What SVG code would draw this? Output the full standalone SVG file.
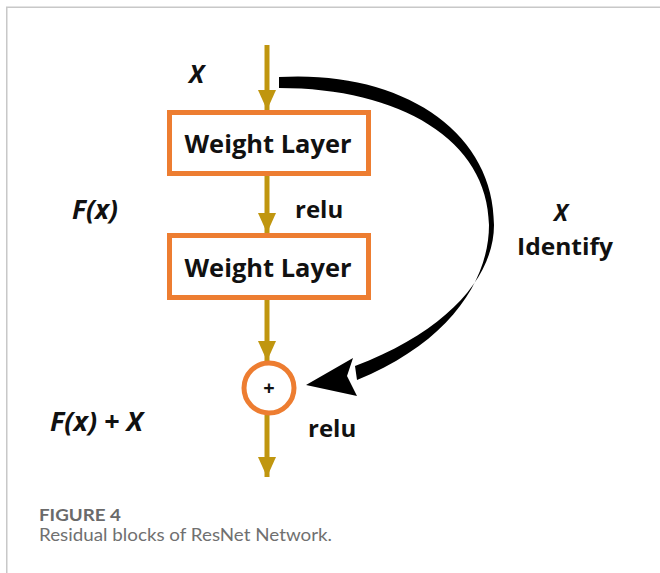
<svg xmlns="http://www.w3.org/2000/svg" width="660" height="573" viewBox="0 0 660 573">
<style>
.frame{fill:none;stroke:#c8c8c8;stroke-width:1.5}
.box{fill:#fff;stroke:#ED7D31;stroke-width:5}
.lbl{font-family:"Open Sans","Liberation Sans",sans-serif;font-weight:700;fill:#111}
.it{font-style:italic}
.flow{stroke:#C0960F;stroke-width:5;fill:none}
.cap1{font-family:Lato,"Open Sans",sans-serif;font-weight:700;font-size:17px;fill:#6a6a6a}
.cap2{font-family:Lato,"Open Sans",sans-serif;font-size:17px;fill:#707070}
</style>
<defs>
<marker id="gold" viewBox="0 0 20 18" refX="20" refY="9" markerWidth="20" markerHeight="18" markerUnits="userSpaceOnUse" orient="auto">
<path d="M0,0 L20,9 L0,18 Z" fill="#C0960F"/>
</marker>
</defs>
<rect width="660" height="573" fill="#fff"/>
<path class="frame" d="M6.75,573 V7.25 H660"/>

<g id="connectors">
<line class="flow" x1="267" y1="45" x2="267" y2="110" marker-end="url(#gold)"/>
<line class="flow" x1="267" y1="176" x2="267" y2="233" marker-end="url(#gold)"/>
<line class="flow" x1="267" y1="300" x2="267" y2="361" marker-end="url(#gold)"/>
<line class="flow" x1="267" y1="415" x2="267" y2="477" marker-end="url(#gold)"/>
<g id="skip" fill="#000">
<path d="M279,77 C400,70 494,130 494,225 C494,275 450,330 355,366 L357,380 C450,342 489,280 489,225 C488,140 400,88 279,88 Z"/>
<path d="M306,385 L353,358 L347,376 L357,396 Z"/>
</g>
</g>

<g id="input-x"><text class="lbl it" x="189" y="83" font-size="25">X</text></g>

<g id="weight1">
<rect class="box" x="169.5" y="112.5" width="199" height="61"/>
<text class="lbl" x="268" y="153" font-size="25" text-anchor="middle" textLength="167" lengthAdjust="spacingAndGlyphs">Weight Layer</text>
</g>

<g id="relu1"><text class="lbl" x="295" y="218" font-size="24">relu</text></g>
<g id="fx"><text class="lbl it" x="72" y="219" font-size="26" textLength="46" lengthAdjust="spacingAndGlyphs">F(x)</text></g>

<g id="weight2">
<rect class="box" x="169.5" y="235.5" width="199" height="62"/>
<text class="lbl" x="268" y="277" font-size="25" text-anchor="middle" textLength="167" lengthAdjust="spacingAndGlyphs">Weight Layer</text>
</g>

<g id="identity">
<text class="lbl it" x="561" y="221" font-size="23" text-anchor="middle">X</text>
<text class="lbl" x="565" y="255" font-size="24" text-anchor="middle" textLength="96" lengthAdjust="spacingAndGlyphs">Identify</text>
</g>

<g id="sum">
<circle cx="269" cy="388" r="25" fill="#fff" stroke="#ED7D31" stroke-width="5"/>
<text class="lbl" x="269" y="395" font-size="20" text-anchor="middle">+</text>
</g>

<g id="relu2"><text class="lbl" x="308" y="437" font-size="24">relu</text></g>
<g id="fxx"><text class="lbl it" x="50" y="431" font-size="26" textLength="93" lengthAdjust="spacingAndGlyphs">F(x) + X</text></g>

<g id="caption">
<text class="cap1" x="39" y="521" textLength="82" lengthAdjust="spacingAndGlyphs">FIGURE 4</text>
<text class="cap2" x="39" y="541" textLength="293" lengthAdjust="spacingAndGlyphs">Residual blocks of ResNet Network.</text>
</g>
</svg>
